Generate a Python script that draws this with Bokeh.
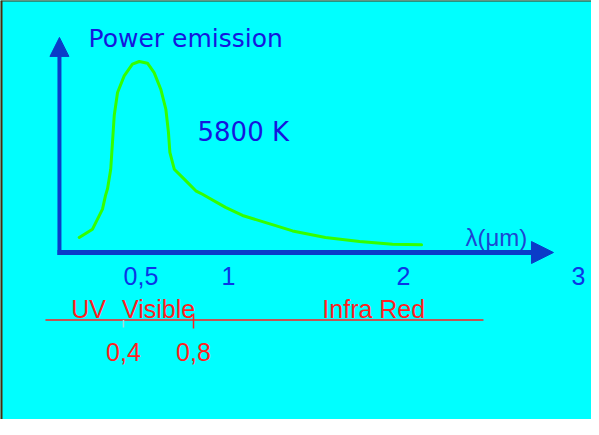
from bokeh.plotting import figure
from bokeh.models import Range1d, Arrow, NormalHead, Span
from bokeh.core.properties import value
from bokeh.embed import file_html
from bokeh.resources import INLINE

# ---------------- data ----------------
wavelength_um = [0.147, 0.223, 0.280, 0.297, 0.309, 0.327, 0.337, 0.347, 0.366, 0.404,
                 0.451, 0.490, 0.537, 0.575, 0.613, 0.642, 0.657, 0.665, 0.690, 0.747,
                 0.813, 0.851, 0.983, 1.080, 1.269, 1.366, 1.554, 1.749, 1.937, 2.103]
power_rel = [7.9, 12.2, 22.7, 29.8, 33.5, 43.6, 57.6, 71.7, 83.8, 92.5,
             98.6, 100.0, 99.1, 94.2, 85.5, 75.0, 62.8, 52.4, 43.6, 38.4,
             32.3, 30.5, 23.6, 19.4, 14.1, 11.3, 7.9, 5.8, 4.3, 4.0]

axis_ticks = [0.5, 1, 2, 3]
axis_tick_labels = ["0,5", "1", "2", "3"]

band_names = ["UV", "Visible", "Infra Red"]
band_edges = [0.0, 0.4, 0.8, 2.86]
boundary_values = [0.4, 0.8]
boundary_labels = ["0,4", "0,8"]

y_title = "Power emission"
x_title = "\u03bb(\u03bcm)"
temperature_label = "5800 K"

# ---------------- layout / style ----------------
W, H = 591, 419
PX_PER_UM = 175.0
PX_PER_P = 1.91
X0_PX = 53.0     # figure px of lambda = 0
Y0_PX = 252.0    # figure px (from top) of power = 0

x_start = -X0_PX / PX_PER_UM
x_end = (W - X0_PX) / PX_PER_UM
y_end = Y0_PX / PX_PER_P
y_start = -(H - Y0_PX) / PX_PER_P

TS = 10.0 / PX_PER_P  # baseline correction for text rendering

BG = "#00FFFF"
BROWN = "#4B2C0B"
AXIS_BLUE = "#0B3CC8"
TEXT_BLUE = "#1616DD"
TICK_BLUE = "#0B35E6"
RED = "#FF1F1F"
GREEN = "#33FF00"

AXIS_X = 0.034
X_AXIS_LEFT = 0.023
X_AXIS_TIP = 2.857
Y_AXIS_BOTTOM = -1.3
Y_AXIS_TIP = 112.6

p = figure(width=W, height=H, x_range=Range1d(x_start, x_end), y_range=Range1d(y_start, y_end),
           x_axis_type=None, y_axis_type=None, toolbar_location=None, output_backend="svg",
           min_border=0, outline_line_color=None, title=None,
           background_fill_color=BG, border_fill_color=BG)

# frame border (top and left, dark brown)
p.add_layout(Span(location=x_start, dimension="height", line_color=BROWN, line_width=4))
p.add_layout(Span(location=y_end, dimension="width", line_color=BROWN, line_width=2))

# curve
p.line(wavelength_um, power_rel, line_color=GREEN, line_width=3, line_join="round", line_cap="round")

# axes as arrows
p.add_layout(Arrow(x_start=AXIS_X, y_start=Y_AXIS_BOTTOM, x_end=AXIS_X, y_end=Y_AXIS_TIP,
                   line_color=AXIS_BLUE, line_width=4,
                   end=NormalHead(size=19, fill_color=AXIS_BLUE, line_color=AXIS_BLUE, line_width=1)))
p.add_layout(Arrow(x_start=X_AXIS_LEFT, y_start=0, x_end=X_AXIS_TIP, y_end=0,
                   line_color=AXIS_BLUE, line_width=5,
                   end=NormalHead(size=22, fill_color=AXIS_BLUE, line_color=AXIS_BLUE, line_width=1)))

# axis tick labels
p.text(x=axis_ticks, y=[-17.8 + TS] * len(axis_ticks), text=axis_tick_labels,
       text_font=value("Liberation Sans"), text_font_size="25px", text_color=TICK_BLUE,
       text_align="center", text_baseline="alphabetic")

# titles
p.text(x=[0.2], y=[106.8 + TS], text=[y_title], text_font=value("DejaVu Sans"), text_font_size="25px",
       text_color=TEXT_BLUE, text_align="left", text_baseline="alphabetic")
p.text(x=[0.823], y=[58.1 + TS], text=[temperature_label], text_font=value("DejaVu Sans"),
       text_font_size="26px", text_color=TEXT_BLUE, text_align="left", text_baseline="alphabetic")
p.text(x=[2.354], y=[2.6 + TS], text=[x_title], text_font=value("Liberation Sans"), text_font_size="24px",
       text_color="#1E46D2", text_align="left", text_baseline="alphabetic")

# spectral bands
RULE_Y = -35.3
p.segment(x0=[-0.046], y0=[RULE_Y], x1=[2.457], y1=[RULE_Y], line_color=RED, line_width=1.5)
band_centers = [(band_edges[i] + band_edges[i + 1]) / 2 for i in range(len(band_names))]
p.text(x=band_centers, y=[-34.6 + TS] * len(band_names), text=band_names,
       text_font=value("Liberation Sans"), text_font_size="25px", text_color=RED,
       text_align="center", text_baseline="alphabetic")
p.segment(x0=boundary_values, y0=[RULE_Y, -32.0], x1=boundary_values, y1=[-39.3, -39.8],
          line_color=["#A8DCDC", RED], line_width=1.5)
p.text(x=boundary_values, y=[-57.1 + TS] * len(boundary_values), text=boundary_labels,
       text_font=value("Liberation Sans"), text_font_size="25px", text_color=RED,
       text_align="center", text_baseline="alphabetic")

open("out.html", "w").write(file_html(p, INLINE))
